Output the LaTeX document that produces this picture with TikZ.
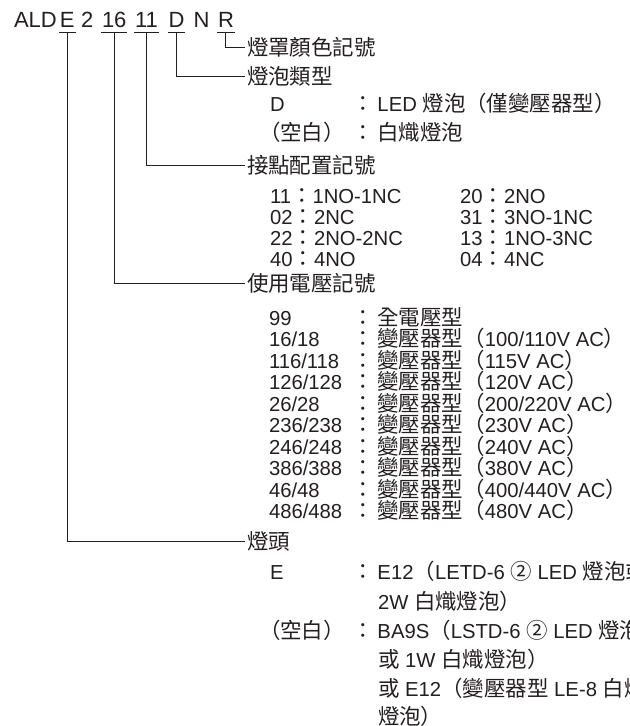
\documentclass[tikz,border=0pt]{standalone}
\usepackage{fontspec}
\setmainfont{Liberation Sans}
\newfontfamily\cjk[Scale=1.06]{Noto Sans CJK TC}
\newcommand{\zh}[1]{{\cjk #1}}
\newcommand{\zcol}{\zh{：}\hspace{3pt}}
\definecolor{ink}{RGB}{35,31,32}
\tikzset{every picture/.style={line width=0.75pt}}
\tikzset{
  txt/.style={anchor=base west, inner sep=0pt, outer sep=0pt, text=ink, font=\fontsize{15.2}{18}\selectfont},
  code/.style={txt, font=\fontsize{16.5}{18}\selectfont, inner xsep=0.75pt, inner ysep=3.75pt, text depth=0pt},
  head/.style={txt, anchor=west, inner xsep=1.5pt},
  lead/.style={draw=ink, line width=0.75pt}
}

\begin{document}
\begin{tikzpicture}[x=0.75pt,y=0.75pt,yscale=-1,xscale=1]
\useasboundingbox (0,0) rectangle (630,726);
\clip (0,0) rectangle (630,726);

% Code Nodes
\node [code] (ald) at (13,27) {ALD};
\node [code] (lbase) at (59,27) {E};
\node [code] (two) at (80,27) {2};
\node [code] (volt) at (101,27) {16};
\node [code] (cont) at (134,27) {11};
\node [code] (bulb) at (167.5,27) {D};
\node [code] (nn) at (192.5,27) {N};
\node [code] (cover) at (217,27) {R};

% Underlines
\draw [lead] (lbase.south west) -- (lbase.south east);
\draw [lead] (volt.south west) -- (volt.south east);
\draw [lead] (cont.south west) -- (cont.south east);
\draw [lead] (bulb.south west) -- (bulb.south east);
\draw [lead] (cover.south west) -- (cover.south east);

% Header Nodes
\node [head] (hcover) at (245,47) {\zh{燈罩顏色記號}};
\node [head] (hbulb) at (245,76) {\zh{燈泡類型}};
\node [head] (hcont) at (245,165) {\zh{接點配置記號}};
\node [head] (hvolt) at (245,283) {\zh{使用電壓記號}};
\node [head] (hbase) at (245,541) {\zh{燈頭}};

% Leader Lines
\draw [lead] (cover.south) |- (hcover.west);
\draw [lead] (bulb.south) |- (hbulb.west);
\draw [lead] (cont.south) |- (hcont.west);
\draw [lead] (volt.south) |- (hvolt.west);
\draw [lead] (lbase.south) |- (hbase.west);

% Bulb Type
\node [txt] (kled) at (270,111) {D};
\node [txt] (vled) at (352,111) {\zcol LED \zh{燈泡（僅變壓器型）}};
\node [txt] (kinc) at (259,140) {\zh{（空白）}};
\node [txt] (vinc) at (352,140) {\zcol\zh{白熾燈泡}};

% Contact Arrangement
\node [txt] (c11) at (270,203) {11\zh{：}1NO-1NC};
\node [txt] (c02) at (270,224) {02\zh{：}2NC};
\node [txt] (c22) at (270,245) {22\zh{：}2NO-2NC};
\node [txt] (c40) at (270,266) {40\zh{：}4NO};
\node [txt] (c20) at (460,203) {20\zh{：}2NO};
\node [txt] (c31) at (460,224) {31\zh{：}3NO-1NC};
\node [txt] (c13) at (460,245) {13\zh{：}1NO-3NC};
\node [txt] (c04) at (460,266) {04\zh{：}4NC};

% Operating Voltage
\node [txt] (k99) at (269,325) {99};
\node [txt] (v99) at (352,325) {\zcol\zh{全電壓型}};
\node [txt] (k16) at (269,346.5) {16/18};
\node [txt] (v16) at (352,346.5) {\zcol\zh{變壓器型（}100/110V AC\zh{）}};
\node [txt] (k116) at (269,368) {116/118};
\node [txt] (v116) at (352,368) {\zcol\zh{變壓器型（}115V AC\zh{）}};
\node [txt] (k126) at (269,389.5) {126/128};
\node [txt] (v126) at (352,389.5) {\zcol\zh{變壓器型（}120V AC\zh{）}};
\node [txt] (k26) at (269,411) {26/28};
\node [txt] (v26) at (352,411) {\zcol\zh{變壓器型（}200/220V AC\zh{）}};
\node [txt] (k236) at (269,432.5) {236/238};
\node [txt] (v236) at (352,432.5) {\zcol\zh{變壓器型（}230V AC\zh{）}};
\node [txt] (k246) at (269,454) {246/248};
\node [txt] (v246) at (352,454) {\zcol\zh{變壓器型（}240V AC\zh{）}};
\node [txt] (k386) at (269,475.5) {386/388};
\node [txt] (v386) at (352,475.5) {\zcol\zh{變壓器型（}380V AC\zh{）}};
\node [txt] (k46) at (269,497) {46/48};
\node [txt] (v46) at (352,497) {\zcol\zh{變壓器型（}400/440V AC\zh{）}};
\node [txt] (k486) at (269,518.5) {486/488};
\node [txt] (v486) at (352,518.5) {\zcol\zh{變壓器型（}480V AC\zh{）}};

% Lamp Base
\node [txt] (ke) at (270,579) {E};
\node [txt] (ve) at (352,579) {\zcol E12\zh{（}LETD-6 \zh{②} LED \zh{燈泡或}};
\node [txt] (ve2) at (378,609) {2W \zh{白熾燈泡）}};
\node [txt] (kba) at (259,638) {\zh{（空白）}};
\node [txt] (vba) at (352,638) {\zcol BA9S\zh{（}LSTD-6 \zh{②} LED \zh{燈泡}};
\node [txt] (vba2) at (378,667) {\zh{或} 1W \zh{白熾燈泡）}};
\node [txt] (vba3) at (378,696) {\zh{或} E12\zh{（變壓器型} LE-8 \zh{白熾}};
\node [txt] (vba4) at (378,724) {\zh{燈泡）}};

\end{tikzpicture}
\end{document}
